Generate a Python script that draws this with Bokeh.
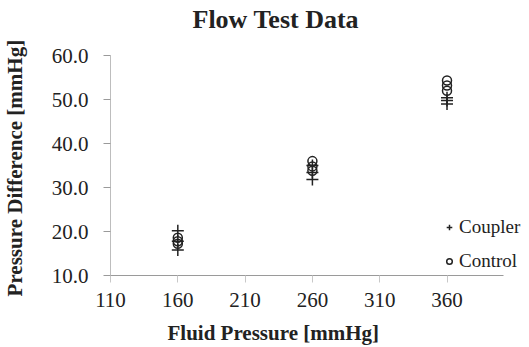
from bokeh.plotting import figure
from bokeh.models import FixedTicker, PrintfTickFormatter, Legend, LegendItem, Label, Range1d
from bokeh.embed import file_html
from bokeh.resources import INLINE

# data
pressure = [160, 160, 160, 260, 260, 260, 360, 360, 360]
coupler = [20.2, 17.8, 15.8, 35.0, 33.4, 31.8, 50.4, 49.8, 49.0]
control = [18.6, 17.8, 17.2, 36.0, 34.8, 33.8, 54.3, 53.2, 52.0]
x_ticks = [110, 160, 210, 260, 310, 360]
y_ticks = [10, 20, 30, 40, 50, 60]

FONT = "Liberation Serif"
INK = "#222222"

p = figure(width=529, height=347, output_backend="svg", toolbar_location=None,
           x_range=Range1d(28.27, 419.8), y_range=Range1d(-6.36, 72.5),
           min_border_left=0, min_border_right=2, min_border_top=0, min_border_bottom=0)
p.outline_line_color = None
p.xgrid.visible = False
p.ygrid.visible = False
p.background_fill_color = "white"

r1 = p.scatter(pressure, coupler, marker="cross", size=12, line_color=INK, line_width=1.5)
r2 = p.scatter(pressure, control, marker="circle", size=9, fill_color=None, line_color=INK, line_width=1.5)

title = Label(text="Flow Test Data", x=192, y=328, x_units="screen", y_units="screen",
              text_font=FONT, text_font_size="26px", text_font_style="bold", text_color=INK,
              text_baseline="alphabetic", text_align="left")
p.add_layout(title)

for ax in (p.xaxis[0], p.yaxis[0]):
    ax.major_label_text_font = FONT
    ax.major_label_text_font_size = "21px"
    ax.major_label_text_color = INK
    ax.minor_tick_line_color = None
    ax.major_tick_in = 0
    ax.major_tick_out = 7

p.xaxis.ticker = FixedTicker(ticks=x_ticks)
p.xaxis.bounds = (110, 402)
p.xaxis.fixed_location = 10
p.yaxis.ticker = FixedTicker(ticks=y_ticks)
p.yaxis.bounds = (10, 60)
p.yaxis.fixed_location = 110
p.yaxis.formatter = PrintfTickFormatter(format="%.1f")
p.xaxis.axis_line_color = "#9a9a9a"
p.xaxis.major_tick_line_color = "#c8c8c8"
p.yaxis.axis_line_color = "#bdbdbd"
p.yaxis.major_tick_line_color = "#9a9a9a"
p.xaxis.major_label_standoff = 10
p.yaxis.major_label_standoff = 15

p.yaxis.axis_label = "Pressure  Difference [mmHg]"
p.yaxis.axis_label_text_font = FONT
p.yaxis.axis_label_text_font_size = "21px"
p.yaxis.axis_label_text_font_style = "bold"
p.yaxis.axis_label_text_color = INK
p.yaxis.axis_label_standoff = 22

xlab = Label(text="Fluid Pressure  [mmHg]", x=167, y=15, x_units="screen", y_units="screen",
             text_font=FONT, text_font_size="21px", text_font_style="bold", text_color=INK,
             text_baseline="alphabetic", text_align="left")
p.add_layout(xlab)

legend = Legend(items=[LegendItem(label="Coupler", renderers=[r1]),
                       LegendItem(label="Control", renderers=[r2])],
                location=(442, 75), label_text_font=FONT, label_text_font_size="19px",
                label_text_color=INK, border_line_color=None, background_fill_alpha=0,
                glyph_width=14, label_standoff=3, spacing=12)
p.add_layout(legend)

open("out.html", "w").write(file_html(p, INLINE))
